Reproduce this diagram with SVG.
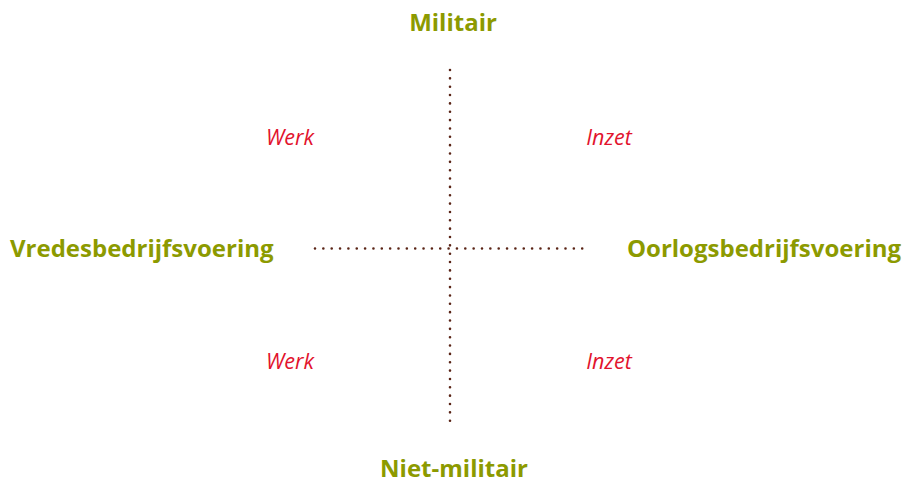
<svg xmlns="http://www.w3.org/2000/svg" width="906" height="484" viewBox="0 0 906 484">
<style>
.axis{font-family:"Open Sans","Noto Sans",sans-serif;font-weight:bold;font-size:24px;fill:#8c9a00}
.q{font-family:"Open Sans","Noto Sans",sans-serif;font-style:italic;font-size:21.5px;fill:#e2132d}
.dot{stroke:#5a2416;stroke-width:2.6;stroke-linecap:round;stroke-dasharray:0 8.35;fill:none}
</style>
<rect width="906" height="484" fill="#ffffff"/>
<g id="connectors">
<line class="dot" x1="450" y1="70" x2="450" y2="425"/>
<line class="dot" x1="315" y1="248.5" x2="586" y2="248.5"/>
</g>
<g id="militair"><text class="axis" x="453" y="31" text-anchor="middle">Militair</text></g>
<g id="niet-militair"><text class="axis" x="454" y="477" text-anchor="middle">Niet-militair</text></g>
<g id="vredes"><text class="axis" x="10" y="257">Vredesbedrijfsvoering</text></g>
<g id="oorlogs"><text class="axis" x="764" y="257" text-anchor="middle">Oorlogsbedrijfsvoering</text></g>
<g id="werk-top"><text class="q" x="290" y="145" text-anchor="middle">Werk</text></g>
<g id="inzet-top"><text class="q" x="609" y="145" text-anchor="middle">Inzet</text></g>
<g id="werk-bottom"><text class="q" x="290" y="369" text-anchor="middle">Werk</text></g>
<g id="inzet-bottom"><text class="q" x="609" y="369" text-anchor="middle">Inzet</text></g>
</svg>
